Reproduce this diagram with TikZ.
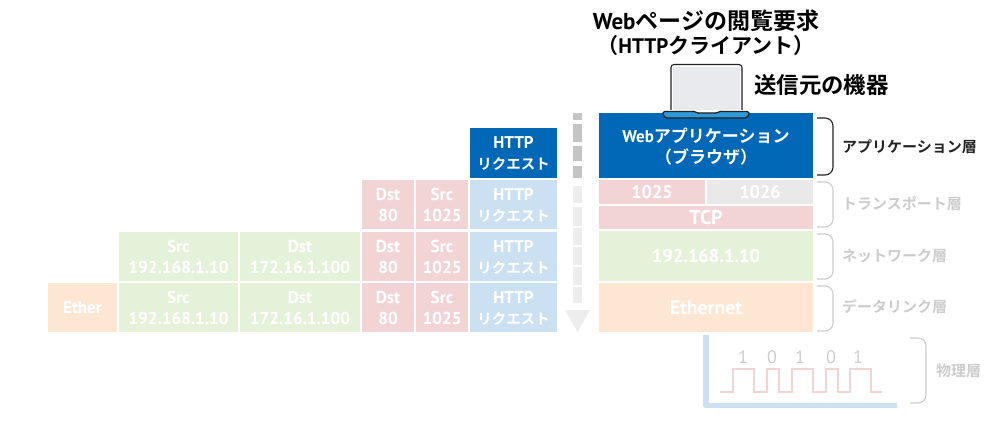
\documentclass[tikz,border=0pt]{standalone}
\usepackage{fontspec}
\setmainfont{Noto Sans CJK JP}[BoldFont={* Bold}]
\newfontfamily\latfont{PT Sans}
\definecolor{appblue}{HTML}{0068B7}
\definecolor{reqblue}{HTML}{CBE1F2}
\definecolor{tcppink}{HTML}{F2D4D5}
\definecolor{ipgreen}{HTML}{E5F2DA}
\definecolor{ethorange}{HTML}{FDE6D2}
\definecolor{portgrey}{HTML}{E9E9EA}
\definecolor{ink}{HTML}{222222}
\definecolor{fadeink}{HTML}{CCCCCC}
\definecolor{screenfill}{HTML}{E9EAEE}
\definecolor{basefill}{HTML}{2E9AD9}
\definecolor{stripe}{HTML}{C4C4C4}
\definecolor{stripefade}{HTML}{EDEDED}
\tikzset{
  cell/.style={inner sep=0pt,outer sep=0pt,text=white,align=center,font=\bfseries\fontsize{17}{21}\selectfont,text depth=0pt},
  brace/.style={line width=1.1pt,rounded corners=8pt},
  layerlabel/.style={inner sep=0pt,anchor=west,text=fadeink,font=\bfseries\fontsize{15}{18}\selectfont},
  headline/.style={inner sep=0pt,font=\bfseries\fontsize{#1}{27}\selectfont},
}
\newcommand{\sz}[1]{\fontsize{#1}{21}\selectfont}
\newcommand{\reqtext}{{\latfont HTTP}\\{\sz{14.5}リクエスト}}
% two-line header cell text; the node font is restored after each line break
\newcommand{\twolines}[2]{{\latfont\sz{17.2}#1}\\{\latfont\sz{17.2}#2}}
% cell with corners given in picture units
\newcommand{\cellbox}[7]{%
  \path[fill=#6] (#2,#3) rectangle (#4,#5);
  \node[cell] (#1) at ({(#2+#4)/2},{(#3+#5)/2}) {#7};
}
\newcommand{\bracket}[4][fadeink]{%
  \draw[brace,draw=#1] (#2-14,#3) -- (#2+2,#3) -- (#2+2,#4) -- (#2-14,#4);
}
\begin{document}
\begin{tikzpicture}[x=1pt,y=-1pt]
\useasboundingbox (0,0) rectangle (1000,425);
% host stack
\cellbox{web}{599}{113}{813}{178}{appblue}{{\latfont Web}アプリケーション\\（ブラウザ）}
\cellbox{pa}{599}{180}{705}{204}{tcppink}{\latfont\sz{18.2}1025}
\cellbox{pb}{707}{180}{813}{204}{portgrey}{\latfont\sz{18.2}1026}
\cellbox{tcp}{599}{206}{813}{229}{tcppink}{\latfont\sz{20}TCP}
\cellbox{ip}{599}{231}{813}{281}{ipgreen}{\latfont\sz{18.5}192.168.1.10}
\cellbox{eth}{599}{283}{813}{332}{ethorange}{\latfont\sz{19.7}Ethernet}
% encapsulation rows
\cellbox{r1h}{470}{128}{557}{178}{appblue}{\reqtext}
\cellbox{r2h}{470}{180}{557}{229}{reqblue}{\reqtext}
\cellbox{r3h}{470}{232}{557}{281}{reqblue}{\reqtext}
\cellbox{r4h}{470}{283}{557}{332}{reqblue}{\reqtext}
\cellbox{r2s}{416}{180}{468}{229}{tcppink}{\twolines{Src}{1025}}
\cellbox{r3s}{416}{232}{468}{281}{tcppink}{\twolines{Src}{1025}}
\cellbox{r4s}{416}{283}{468}{332}{tcppink}{\twolines{Src}{1025}}
\cellbox{r2d}{362}{180}{414}{229}{tcppink}{\twolines{Dst}{80}}
\cellbox{r3d}{362}{232}{414}{281}{tcppink}{\twolines{Dst}{80}}
\cellbox{r4d}{362}{283}{414}{332}{tcppink}{\twolines{Dst}{80}}
\cellbox{r3b}{240}{232}{360}{281}{ipgreen}{\twolines{Dst}{172.16.1.100}}
\cellbox{r4b}{240}{283}{360}{332}{ipgreen}{\twolines{Dst}{172.16.1.100}}
\cellbox{r3a}{119}{232}{238}{281}{ipgreen}{\twolines{Src}{192.168.1.10}}
\cellbox{r4a}{119}{283}{238}{332}{ipgreen}{\twolines{Src}{192.168.1.10}}
\cellbox{r4e}{48}{283}{117}{332}{ethorange}{\latfont Ether}
% downward flow arrow
\foreach \a/\b in {113/120,124/142,146/161,166/178}
  \fill[stripe] (573,\a) rectangle (582,\b);
\foreach \a/\b in {186/203,207/226,228/245,247/265,267/285,287/303}
  \fill[stripefade] (573,\a) rectangle (582,\b);
\fill[stripefade] (565,310) -- (590,310) -- (577.5,332) -- cycle;
% laptop
\draw[ink,line width=1.1pt,fill=white,rounded corners=3pt] (671,110) -- (671,64.5) -- (742,64.5) -- (742,110);
\fill[screenfill] (673,67) rectangle (740,110);
\draw[ink,line width=1.1pt,fill=basefill,rounded corners=1.5pt] (663,111.5) -- (695,111.5) -- (697,113) -- (717,113) -- (719,111.5) -- (749,111.5) -- (749,115) -- (746,118) -- (666,118) -- (663,115) -- cycle;
% headings
\node[headline=23] (title) at (706,21) {{\latfont Web}ページの閲覧要求};
\node[headline=21] (client) at (706,46) {（{\latfont HTTP}クライアント）};
\node[headline=22.4,anchor=west] (device) at (754,85) {送信元の機器};
% layer labels and brackets
\bracket[ink]{831}{118}{175}
\bracket{831}{182}{227}
\bracket{831}{234}{279}
\bracket{831}{286}{331}
\bracket{924}{338}{403}
\node[layerlabel,text=ink] (l7) at (842,147) {アプリケーション層};
\node[layerlabel] (l4) at (842,204) {トランスポート層};
\node[layerlabel] (l3) at (842,256) {ネットワーク層};
\node[layerlabel] (l2) at (842,307) {データリンク層};
\node[layerlabel] (l1) at (936,371) {物理層};
% physical medium and signal
\draw[reqblue,line width=5.5pt,line join=round] (706,335) -- (706,405.5) -- (897,405.5);
\draw[tcppink,line width=1.1pt] (720,392) -- (733,392) -- (733,369) -- (754,369) -- (754,392) -- (767,392) -- (767,369) -- (779,369) -- (779,392) -- (792,392) -- (792,369) -- (813,369) -- (813,392) -- (826,392) -- (826,369) -- (838,369) -- (838,392) -- (850,392) -- (850,369) -- (871,369) -- (871,392) -- (882,392);
\foreach \n/\t/\x in {b1/1/743,b2/0/772,b3/1/800,b4/0/831,b5/1/858}
  \node[inner sep=0pt,text=fadeink,font=\latfont\fontsize{18}{20}\selectfont] (\n) at (\x,357) {\t};
\end{tikzpicture}
\end{document}
